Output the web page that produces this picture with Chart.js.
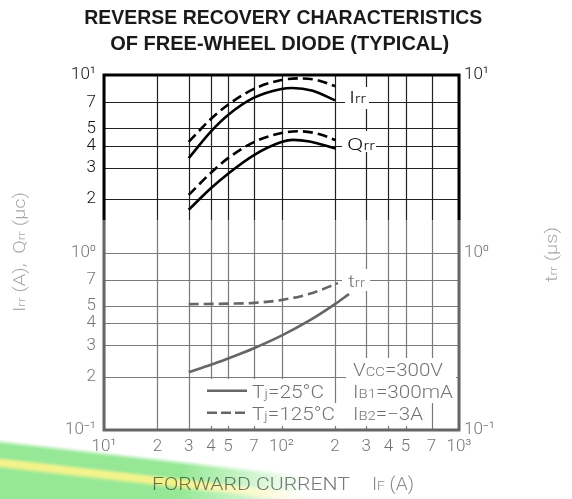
<!DOCTYPE html>
<html><head><meta charset="utf-8">
<script src="https://cdn.jsdelivr.net/npm/chart.js@4"></script>
<style>
html,body{margin:0;padding:0;background:#fff;overflow:hidden}
#wrap{position:relative;width:572px;height:499px;background:#fff}
canvas{display:block}
#band{position:absolute;left:-30px;top:436px;width:370px;height:120px;transform:rotate(6.5deg);transform-origin:0 0;mix-blend-mode:multiply;pointer-events:none;
background:linear-gradient(to bottom, rgba(150,232,150,0) 0px, #96e896 5px, #96e896 17px, #f3f38c 21px, #f3f38c 25px, #96e896 30px, #96e896 100%);
-webkit-mask-image:linear-gradient(to right,#000 0,#000 58%,transparent 92%);mask-image:linear-gradient(to right,#000 0,#000 58%,transparent 92%);}
</style></head>
<body>
<div id="wrap"><canvas id="c" width="572" height="499"></canvas><div id="band"></div></div>
<script>
// ---- data ----
const xTicks = [10,20,30,40,50,70,100,200,300,400,500,700,1000];
const yTicks = [0.1,0.2,0.3,0.4,0.5,0.7,1,2,3,4,5,7,10];
const yDecades = [0.1,1,10];
const irrCurrent = [30,40,50,70,100,115,150,200];
const irr25  = [3.4,4.8,5.95,7.45,8.35,8.45,8.15,7.2];
const irr125Current = [30,40,50,70,100,125,160,200];
const irr125 = [4.2,5.65,6.8,8.35,9.38,9.57,9.35,8.65];
const qrrCurrent = [30,40,50,70,100,116,144,202];
const qrr25  = [1.74,2.3,2.78,3.54,4.19,4.31,4.22,3.85];
const qrr125Current = [30,40,50,70,100,126,164,202];
const qrr125 = [2.11,2.81,3.4,4.19,4.71,4.82,4.64,4.29];
const trr25Current = [30,40,50,70,100,144,202,240];
const trr25  = [0.212,0.233,0.253,0.289,0.34,0.414,0.515,0.583];
const trr125Current = [30,51,70,101,144,208];
const trr125 = [0.512,0.515,0.52,0.541,0.585,0.672];

const sup = {'0':'⁰','1':'¹','2':'²','3':'³','-':'⁻'};
function logLabel(v){
  const e = Math.floor(Math.log10(v)+1e-9);
  const m = Math.round(v/Math.pow(10,e));
  if(m===1) return '10'+String(e).split('').map(c=>sup[c]).join('');
  return String(m);
}
const mk = (xs, ys) => xs.map((x,i)=>({x:x, y:ys[i]}));
const FONT = 'Roboto';
const tickFont = {family:FONT, size:17, weight:'300'};

function richText(ctx, parts, x, y, size, color, align, targetW){
  const big = `300 ${size}px ${FONT}`, small = `300 ${Math.round(size*0.7)}px ${FONT}`;
  let w=0;
  for(const [t,s] of parts){ctx.font=s?small:big; w+=ctx.measureText(t).width;}
  const k = targetW ? targetW/w : 1;
  const tw = w*k;
  let sx = align==='center'? x-tw/2 : align==='right'? x-tw : x;
  ctx.save();
  ctx.translate(sx,y); ctx.scale(k,1);
  ctx.fillStyle=color; ctx.textBaseline='alphabetic'; ctx.textAlign='left';
  let cx=0;
  for(const [t,s] of parts){ctx.font=s?small:big; ctx.fillText(t,cx,0); cx+=ctx.measureText(t).width;}
  ctx.restore();
}
function fitText(ctx, txt, cx, base, w, font, color){
  ctx.save(); ctx.font=font; const m=ctx.measureText(txt).width;
  ctx.translate(cx,base); ctx.scale(w/m,1); ctx.textAlign='center'; ctx.textBaseline='alphabetic';
  ctx.fillStyle=color; ctx.fillText(txt,0,0); ctx.restore();
}

const deco = {
  id:'deco',
  beforeDatasetsDraw(chart){
    const ctx=chart.ctx, a=chart.chartArea, sx=chart.scales.x, sy=chart.scales.y;
    ctx.save();
    // grid from the scales' ticks
    ctx.strokeStyle='#222'; ctx.lineWidth=1.2;
    ctx.beginPath();
    for(const t of sx.ticks){const px=Math.round(sx.getPixelForValue(t.value))+0.5; ctx.moveTo(px,a.top); ctx.lineTo(px,a.bottom);}
    for(const t of sy.ticks){const py=Math.round(sy.getPixelForValue(t.value))+0.5; ctx.moveTo(a.left,py); ctx.lineTo(a.right,py);}
    ctx.stroke();
    ctx.fillStyle='#fff';
    const boxes=[[345,87,24,22],[342,131,34,21],[342,269,28,22],
      [200,379,128,24],[200,403,141,23],[346,358,110,20],[346,378,110,25],[346,403,82,23]];
    for(const b of boxes) ctx.fillRect(b[0],b[1],b[2],b[3]);
    ctx.strokeStyle='#000'; ctx.lineWidth=3;
    ctx.strokeRect(a.left,a.top,a.right-a.left,a.bottom-a.top);
    ctx.restore();
  },
  afterDatasetsDraw(chart){
    const ctx=chart.ctx;
    ctx.save();
    const c='#111';
    richText(ctx,[['I'],['rr',1]],349,103,17,c,'left',17);
    richText(ctx,[['Q'],['rr',1]],347,150,17,c,'left',28);
    richText(ctx,[['t'],['rr',1]],348,286.5,17,c,'left',17);
    ctx.strokeStyle='#000'; ctx.lineWidth=2.6;
    ctx.beginPath(); ctx.moveTo(207,390.7); ctx.lineTo(247,390.7); ctx.stroke();
    ctx.setLineDash([10,4]);
    ctx.beginPath(); ctx.moveTo(207,412.7); ctx.lineTo(247,412.7); ctx.stroke();
    ctx.setLineDash([]);
    richText(ctx,[['T'],['j',1],['=25°C']],252,398.3,18,c,'left',72);
    richText(ctx,[['T'],['j',1],['=125°C']],252,420,18,c,'left',83);
    richText(ctx,[['V'],['CC',1],['=300V']],353,376,18,c,'left',90);
    richText(ctx,[['I'],['B1',1],['=300mA']],353,398.3,18,c,'left',100);
    richText(ctx,[['I'],['B2',1],['=−3A']],353,420,18,c,'left',70);
    ctx.restore();
  },
  afterDraw(chart){
    const ctx=chart.ctx;
    ctx.save();
    fitText(ctx,'REVERSE RECOVERY CHARACTERISTICS',283.3,23.8,398,'bold 20px "Liberation Sans"','#1a1a1a');
    fitText(ctx,'OF FREE-WHEEL DIODE (TYPICAL)',279.7,49.5,339,'bold 20px "Liberation Sans"','#1a1a1a');
    ctx.fillStyle='rgba(255,255,255,0.4)';
    ctx.fillRect(0,220,572,279);
    richText(ctx,[['FORWARD CURRENT']],152,490,18,'#7a7a7a','left',198);
    richText(ctx,[['I'],['F',1],[' (A)']],372,490,18,'#8a8a8a','left',42);
    ctx.translate(25,252); ctx.rotate(-Math.PI/2);
    richText(ctx,[['I'],['rr',1],[' (A),  Q'],['rr',1],[' (μc)']],0,0,16,'#a8a8a8','center',120);
    ctx.restore();
    ctx.save();
    ctx.translate(557,254.5); ctx.rotate(-Math.PI/2);
    richText(ctx,[['t'],['rr',1],[' (μs)']],0,0,16,'#a8a8a8','center',55);
    ctx.restore();
  }
};

const line = (label, data, dashed) => ({label, data, borderColor:'#000', borderWidth:2.6, pointRadius:0,
  cubicInterpolationMode:'monotone', fill:false, borderDash: dashed?[10,5]:[]});

new Chart(document.getElementById('c'), {
  type:'line',
  data:{datasets:[
    line('Irr Tj=25°C', mk(irrCurrent,irr25), false),
    line('Irr Tj=125°C', mk(irr125Current,irr125), true),
    line('Qrr Tj=25°C', mk(qrrCurrent,qrr25), false),
    line('Qrr Tj=125°C', mk(qrr125Current,qrr125), true),
    line('trr Tj=25°C', mk(trr25Current,trr25), false),
    line('trr Tj=125°C', mk(trr125Current,trr125), true)
  ]},
  options:{
    responsive:false, animation:false, devicePixelRatio:1,
    layout:{padding:{top:75,left:0,right:0,bottom:0}},
    plugins:{legend:{display:false}, tooltip:{enabled:false}, title:{display:false}},
    scales:{
      x:{type:'logarithmic', min:10, max:1000, position:'bottom',
        afterBuildTicks:s=>{s.ticks=xTicks.map(v=>({value:v}));},
        afterFit:s=>{s.height=69;},
        grid:{display:false, drawTicks:false},
        border:{display:false},
        ticks:{autoSkip:false, maxRotation:0, padding:7, color:'#111', font:tickFont, callback:v=>logLabel(v)}},
      y:{type:'logarithmic', min:0.1, max:10, position:'left',
        afterBuildTicks:s=>{s.ticks=yTicks.map(v=>({value:v}));},
        afterFit:s=>{s.width=104;},
        grid:{display:false, drawTicks:false},
        border:{display:false},
        ticks:{autoSkip:false, padding:8, color:'#111', font:tickFont, callback:v=>logLabel(v)}},
      y2:{type:'logarithmic', min:0.1, max:10, position:'right',
        afterBuildTicks:s=>{s.ticks=yDecades.map(v=>({value:v}));},
        afterFit:s=>{s.width=113;},
        grid:{display:false, drawTicks:false},
        border:{display:false},
        ticks:{autoSkip:false, padding:5, color:'#111', font:tickFont, callback:v=>logLabel(v)}}
    }
  },
  plugins:[deco]
});
</script>
</body></html>
